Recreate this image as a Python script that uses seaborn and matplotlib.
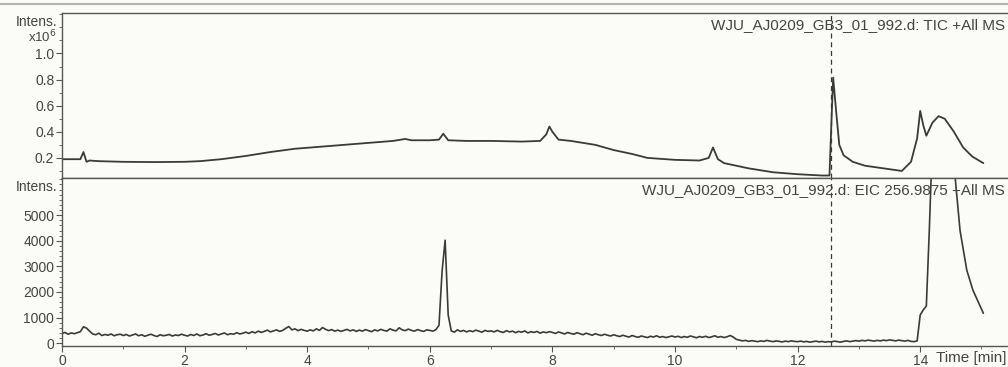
import numpy as np
import pandas as pd
import matplotlib
matplotlib.use("Agg")
import matplotlib.pyplot as plt
from matplotlib.lines import Line2D
from matplotlib.ticker import MultipleLocator, FixedLocator
import seaborn as sns

# ---- TIC trace (intensity in units of 1e6) ----
tic_time = [0.0, 0.2, 0.3, 0.35, 0.4, 0.45, 0.6, 1.0, 1.5, 2.0, 2.25, 2.6, 3.0, 3.4,
            3.8, 4.2, 4.6, 5.0, 5.4, 5.6, 5.7, 6.0, 6.15, 6.22, 6.3, 6.6, 7.0, 7.5,
            7.8, 7.9, 7.95, 8.0, 8.1, 8.3, 8.5, 8.7, 9.0, 9.3, 9.55, 10.0, 10.4,
            10.55, 10.62, 10.7, 10.8, 11.2, 11.6, 12.0, 12.4, 12.52, 12.55, 12.58,
            12.63, 12.68, 12.75, 12.9, 13.1, 13.4, 13.7, 13.85, 13.95, 14.0, 14.05,
            14.1, 14.2, 14.3, 14.4, 14.55, 14.7, 14.85, 15.03]
tic_intensity = [0.19, 0.19, 0.19, 0.245, 0.17, 0.18, 0.175, 0.17, 0.168, 0.17, 0.175,
                 0.19, 0.215, 0.245, 0.27, 0.285, 0.30, 0.315, 0.33, 0.345, 0.335,
                 0.335, 0.34, 0.385, 0.335, 0.33, 0.33, 0.325, 0.33, 0.38, 0.44, 0.40,
                 0.34, 0.33, 0.315, 0.30, 0.26, 0.23, 0.20, 0.185, 0.18, 0.20, 0.28,
                 0.19, 0.16, 0.12, 0.09, 0.075, 0.065, 0.065, 0.45, 0.815, 0.55, 0.30,
                 0.22, 0.17, 0.14, 0.12, 0.10, 0.17, 0.35, 0.56, 0.45, 0.37, 0.47,
                 0.52, 0.50, 0.40, 0.28, 0.21, 0.16]

# ---- EIC 256.9875 trace, sampled every 0.05 min up to 13.95 min ----
eic_baseline = [
    380, 420, 350, 400, 370, 410, 450, 640, 590, 470, 360, 330, 390, 300, 340, 310, 360, 290, 330, 350,
    300, 340, 280, 320, 360, 290, 330, 270, 310, 350, 300, 260, 330, 290, 310, 340, 280, 320, 300, 350,
    310, 280, 340, 300, 360, 290, 320, 370, 310, 340, 380, 320, 360, 400, 330, 370, 350, 410, 360, 390,
    430, 380, 450, 400, 470, 420, 460, 510, 440, 480, 520, 460, 500, 580, 650, 520, 560, 490, 540, 500,
    470, 520, 480, 560, 500, 610, 540, 490, 530, 470, 510, 460, 500, 540, 480, 520, 460, 510, 470, 530,
    490, 450, 520, 480, 540, 500, 470, 560, 510, 480, 600, 520, 490, 550, 500, 470, 530, 490, 460, 520,
    500, 470, 530, 700, 2800, 4020, 1100, 480, 430, 520, 460, 500, 440, 490, 450, 510, 470, 430, 500, 460,
    480, 440, 500, 450, 420, 490, 440, 470, 410, 460, 430, 480, 400, 450, 420, 460, 390, 440, 410, 450,
    420, 380, 440, 400, 360, 420, 380, 350, 410, 370, 330, 390, 350, 310, 370, 330, 300, 350, 310, 280,
    330, 290, 260, 310, 270, 240, 300, 260, 230, 280, 250, 220, 270, 240, 290, 230, 260, 220, 250, 280,
    240, 270, 220, 260, 230, 280, 250, 210, 260, 230, 270, 220, 250, 290, 230, 260, 220, 250, 300, 240,
    150, 120, 90, 110, 70, 100, 80, 60, 90, 70, 110, 80, 60, 90, 70, 50, 80, 60, 90, 70,
    60, 80, 50, 70, 40, 60, 80, 50, 70, 40, 60, 50, 80, 60, 40, 70, 90, 60, 80, 100,
    80, 110, 90, 120, 100, 80, 110, 90, 120, 100, 130, 110, 90, 120, 100, 80, 110, 70, 60, 90,
]
eic_tail_time = [14.0, 14.05, 14.1, 14.15, 14.2, 14.3, 14.4, 14.5, 14.55, 14.65, 14.76, 14.86, 15.03]
eic_tail_intensity = [1100, 1300, 1450, 4500, 8000, 9500, 9000, 7500, 7000, 4400, 2850, 2070, 1170]

marker_time = 12.55
tic_title = "WJU_AJ0209_GB3_01_992.d: TIC +All MS"
eic_title = "WJU_AJ0209_GB3_01_992.d: EIC 256.9875 +All MS"
x_major = [0, 2, 4, 6, 8, 10, 12, 14]
tic_ticks = [0.2, 0.4, 0.6, 0.8, 1.0]
eic_ticks = [0, 1000, 2000, 3000, 4000, 5000]

eic_time = list(np.round(np.arange(len(eic_baseline)) * 0.05, 2)) + eic_tail_time
eic_intensity = eic_baseline + eic_tail_intensity

tic_df = pd.DataFrame({"time": tic_time, "intensity": tic_intensity})
eic_df = pd.DataFrame({"time": eic_time, "intensity": eic_intensity})

sns.set_theme(style="ticks")
plt.rcParams["font.family"] = ["Liberation Sans", "DejaVu Sans"]

INK = "#3a3a3a"
TXT = "#444444"
BG = "#fbfbf8"
FS = 10
FS_TITLE = 11

W, H = 1008, 367
fig = plt.figure(figsize=(W / 100, H / 100), dpi=100, facecolor=BG)

left = 62 / W
ax_top = fig.add_axes([left, 1 - 178 / H, 1 - left, 165 / H], facecolor=BG)
ax_bot = fig.add_axes([left, 1 - 346 / H, 1 - left, 168 / H], facecolor=BG)

sns.lineplot(data=tic_df, x="time", y="intensity", ax=ax_top, color=INK, lw=1.3)
sns.lineplot(data=eic_df, x="time", y="intensity", ax=ax_bot, color=INK, lw=1.2)

xmax = (W - 62) / 61.3
for ax in (ax_top, ax_bot):
    ax.set_xlim(0, xmax)
    ax.axvline(marker_time, color=INK, lw=0.9, ls=(0, (4, 3)))
    ax.set_xlabel("")
    ax.set_ylabel("")
    for s in ("left", "top", "bottom"):
        ax.spines[s].set_color("#555555")
        ax.spines[s].set_linewidth(1.0)
    ax.spines["right"].set_visible(False)
    ax.xaxis.set_major_locator(FixedLocator(x_major))
    ax.xaxis.set_minor_locator(MultipleLocator(1))
    ax.tick_params(axis="both", which="major", length=4, width=0.8, color="#555555",
                   labelsize=FS, labelcolor=TXT, pad=1.5)
    ax.tick_params(axis="both", which="minor", length=2, width=0.6, color="#555555")

ax_top.set_ylim(0.046, 1.31)
ax_top.yaxis.set_major_locator(FixedLocator(tic_ticks))
ax_top.yaxis.set_minor_locator(MultipleLocator(0.1))
ax_top.set_yticklabels([f"{v:.1f}" for v in tic_ticks])
ax_top.tick_params(axis="x", which="both", labelbottom=False, length=0)

ax_bot.set_ylim(-110, 6450)
ax_bot.yaxis.set_major_locator(FixedLocator(eic_ticks))
ax_bot.yaxis.set_minor_locator(MultipleLocator(200))
ax_bot.set_yticklabels([str(v) for v in eic_ticks])

# axis annotations
def fx(px):
    return px / W

def fy(py):
    return 1 - py / H

fig.text(fx(57), fy(22), "Intens.", ha="right", va="center", fontsize=FS, color=TXT)
fig.text(fx(57), fy(37), r"x10$^6$", ha="right", va="center", fontsize=FS - 0.5, color=TXT)
fig.text(fx(57), fy(187), "Intens.", ha="right", va="center", fontsize=FS, color=TXT)
fig.text(fx(1005), fy(25), tic_title, ha="right", va="center", fontsize=FS_TITLE, color=TXT)
fig.text(fx(1005), fy(190), eic_title, ha="right", va="center", fontsize=FS_TITLE, color=TXT)
fig.text(fx(936), fy(358), "Time [min]", ha="left", va="center", fontsize=FS_TITLE, color=TXT)

# window border above the plot area
fig.add_artist(Line2D([0, 1], [fy(4), fy(4)], color="#b5b5b5", lw=1.5))

fig.savefig("out.png", dpi=100, facecolor=BG)
